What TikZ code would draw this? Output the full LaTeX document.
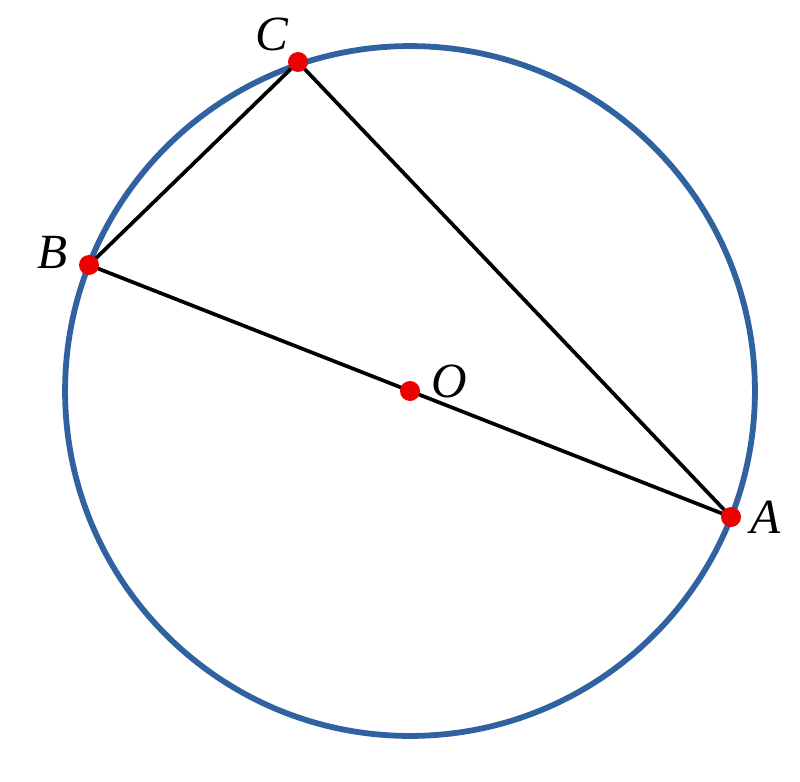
\documentclass[tikz,border=0pt]{standalone}
\usepackage{fontspec}
\setmainfont{Liberation Serif}
\usetikzlibrary{positioning,calc}
\definecolor{circblue}{RGB}{48,98,160}
\definecolor{dotred}{RGB}{236,0,0}
\tikzset{
  pt/.style={circle,fill=dotred,inner sep=0pt,minimum size=0.4cm},
  lbl/.style={font=\fontsize{28}{28}\selectfont\itshape},
  seg/.style={line width=2.1pt,black}
}
\begin{document}
\begin{tikzpicture}[x=0.02cm,y=-0.02cm]
  \useasboundingbox (0,0) rectangle (800,781);
  % Circle
  \draw[circblue,line width=3.3pt] (410,391) circle [radius=6.9cm];

  % Points
  \coordinate (o) at (410,391);
  \coordinate (a) at (731,517);
  \coordinate (b) at (89,265);
  \coordinate (c) at (298,62);

  % Sides
  \draw[seg] (b) -- (c) -- (a) -- (b);

  % Dots
  \node[pt] (O) at (o) {};
  \node[pt] (A) at (a) {};
  \node[pt] (B) at (b) {};
  \node[pt] (C) at (c) {};

  % Labels
  \node[lbl] (la) at (766,517) {A};
  \node[lbl] (lb) at (53,252) {B};
  \node[lbl] (lc) at (272,34) {C};
  \node[lbl] (lo) at (449,381) {O};
\end{tikzpicture}
\end{document}
